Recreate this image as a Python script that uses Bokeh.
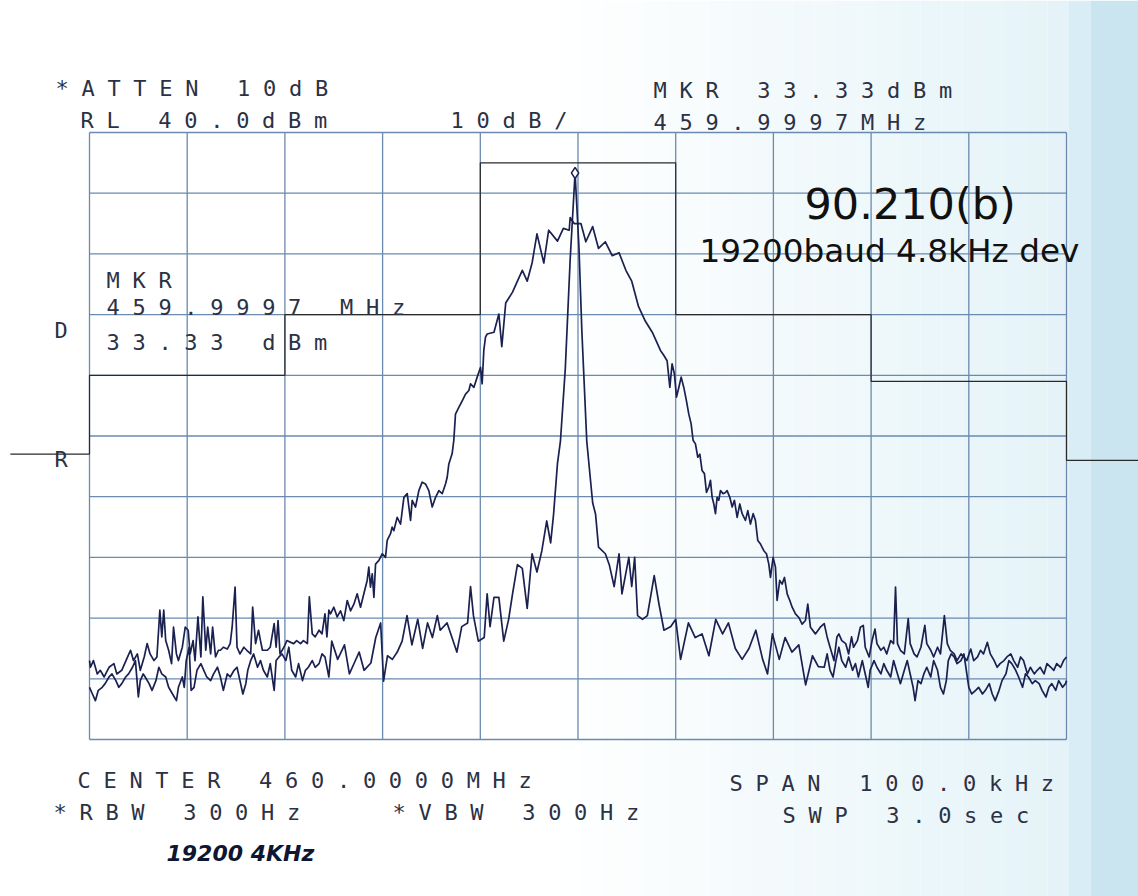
from bokeh.plotting import figure
from bokeh.layouts import column
from bokeh.models import Range1d
from bokeh.core.properties import value
from bokeh.embed import file_html
from bokeh.resources import INLINE

# ---------------- instrument settings ----------------
CENTER_MHZ = 460.0
SPAN_KHZ = 100.0
REF_LEVEL_DBM = 40.0
DB_PER_DIV = 10.0
N_DIV = 10
MARKER_FREQ_KHZ = -0.3      # 459.9997 MHz
MARKER_LEVEL_DBM = 33.33

# ---------------- emission mask (offset kHz, dBm) ----------------
mask_freq = [-58.1, -50.0, -50.0, -30.0, -30.0, -10.0, -10.0, 10.0, 10.0, 30.0, 30.0, 50.0, 50.0, 58.0]
mask_level = [-13.0, -13.0, 0.0, 0.0, 10.0, 10.0, 35.0, 35.0, 10.0, 10.0, -1.0, -1.0, -14.0, -14.0]

# ---------------- trace 1: modulated 19200 baud signal (offset kHz, dBm) ----------------
trace_mod = [
    (-50.0, -47.0), (-49.9, -48.1), (-49.6, -47.0), (-49.2, -49.2), (-48.9, -48.6), (-48.5, -49.7),
    (-48.0, -48.1), (-47.5, -47.5), (-47.2, -49.2), (-46.7, -48.6), (-46.1, -46.4), (-45.8, -45.3),
    (-45.5, -47.0), (-45.1, -45.9), (-44.8, -48.6), (-44.4, -46.4), (-44.1, -44.2), (-43.8, -45.9),
    (-43.4, -47.0), (-43.1, -46.4), (-42.8, -38.7), (-42.6, -43.1), (-42.4, -38.7), (-42.2, -43.7),
    (-41.9, -45.3), (-41.6, -47.5), (-41.4, -41.5), (-41.1, -45.9), (-40.9, -47.0), (-40.5, -44.8),
    (-40.2, -41.5), (-39.9, -42.0), (-39.7, -45.9), (-39.4, -43.7), (-39.2, -47.0), (-38.9, -39.8),
    (-38.6, -46.4), (-38.4, -36.5), (-38.1, -45.3), (-37.9, -41.5), (-37.6, -45.9), (-37.4, -41.5),
    (-37.1, -46.4), (-36.8, -45.3), (-36.6, -45.3), (-36.3, -44.8), (-35.9, -45.1), (-35.6, -44.2),
    (-35.4, -41.5), (-35.1, -34.9), (-34.9, -44.8), (-34.6, -45.9), (-34.2, -44.8), (-33.9, -45.3),
    (-33.5, -45.9), (-33.3, -38.2), (-33.0, -44.2), (-32.7, -42.0), (-32.5, -43.7), (-32.3, -45.3),
    (-31.8, -45.3), (-31.5, -44.8), (-31.1, -40.9), (-30.9, -44.8), (-30.7, -40.4), (-30.5, -45.9),
    (-30.1, -44.8), (-29.8, -43.7), (-29.4, -44.0), (-29.1, -44.2), (-28.8, -43.7), (-28.4, -44.2),
    (-28.1, -43.7), (-27.7, -44.2), (-27.5, -36.5), (-27.2, -42.6), (-26.9, -43.1), (-26.5, -42.0),
    (-26.2, -42.6), (-25.9, -39.3), (-25.7, -43.1), (-25.5, -38.7),
    (-25.33, -39.3), (-24.99, -38.2), (-24.65, -39.8), (-24.31, -38.8), (-23.97, -40.4),
    (-23.62, -37.1), (-23.28, -38.8), (-22.94, -37.7), (-22.6, -36.0), (-22.26, -38.2),
    (-21.92, -36.0), (-21.58, -33.8), (-21.41, -31.6), (-21.24, -34.9), (-21.06, -32.7),
    (-20.89, -36.6), (-20.72, -31.1), (-20.38, -30.5), (-20.04, -29.4), (-19.7, -30.0),
    (-19.53, -27.2), (-19.19, -26.1), (-19.02, -25.0), (-18.85, -25.6), (-18.51, -23.4),
    (-18.16, -24.5), (-17.82, -20.1), (-17.48, -19.5), (-17.14, -23.9), (-16.97, -20.6),
    (-16.63, -21.7), (-16.29, -19.0), (-15.95, -17.6), (-15.61, -17.9), (-15.27, -19.0),
    (-14.92, -21.7), (-14.58, -20.1), (-14.24, -19.0), (-13.9, -19.5), (-13.56, -17.9),
    (-13.39, -16.8), (-13.22, -14.6), (-12.88, -12.9), (-12.71, -10.7), (-12.54, -6.4),
    (-12.2, -5.3), (-11.85, -4.2), (-11.51, -3.1), (-11.17, -2.5), (-11.0, -1.4),
    (-10.66, -2.0), (-10.32, -0.3), (-9.98, 1.3), (-9.81, -1.4), (-9.64, 4.1), (-9.47, 6.3),
    (-9.3, 6.8), (-8.6, 7.1), (-8.1, 10.1), (-7.8, 4.7),
    (-7.4, 11.9), (-6.7, 13.7), (-6.2, 15.5), (-5.7, 17.3), (-5.2, 15.5), (-4.7, 18.5), (-4.2, 23.3),
    (-3.5, 18.5), (-3.0, 23.9), (-2.1, 22.1), (-1.5, 24.2), (-0.9, 23.9), (-0.8, 26.0), (-0.4, 25.0),
    (0.3, 25.0), (0.8, 22.0), (1.5, 24.5), (2.1, 20.9), (2.8, 22.0), (3.5, 19.7), (4.2, 20.2),
    (4.9, 17.3), (5.5, 15.5), (6.2, 11.3), (6.9, 8.9), (7.6, 7.1),
    (8.44, 4.1), (8.78, 3.3), (9.12, 2.4), (9.4, -2.0), (9.63, 1.9), (9.87, 0.2), (10.08, -3.6),
    (10.32, -2.0), (10.56, -0.3), (10.83, -2.0), (11.1, -4.2), (11.34, -6.4), (11.58, -8.0),
    (11.78, -10.7), (12.02, -11.3), (12.26, -13.5), (12.47, -13.0), (12.7, -15.7), (12.94, -16.2),
    (13.15, -19.3), (13.39, -18.4), (13.56, -17.3), (13.73, -20.1), (13.9, -21.2), (14.07, -22.8),
    (14.24, -20.1), (14.41, -20.6), (14.58, -19.0), (14.85, -19.5), (15.09, -19.3), (15.26, -19.0),
    (15.54, -20.1), (15.78, -21.7), (16.01, -20.6), (16.29, -23.4), (16.56, -21.2), (16.8, -22.8),
    (17.14, -23.9), (17.38, -22.3), (17.65, -24.5), (17.93, -22.8), (18.16, -23.9), (18.4, -27.2),
    (18.68, -27.8), (19.02, -28.9), (19.29, -29.4), (19.53, -31.1), (19.7, -33.3), (19.97, -30.0),
    (20.21, -31.6), (20.38, -37.1), (20.65, -33.8), (20.89, -34.4), (21.13, -33.3), (21.41, -36.0),
    (21.68, -37.1), (21.92, -38.2), (22.26, -39.3), (22.6, -39.9), (22.94, -41.0), (23.28, -40.4),
    (23.52, -37.7), (23.79, -41.5), (24.3, -42.6),
    (24.8, -41.5), (25.2, -40.9), (25.5, -43.1), (25.8, -44.8), (26.2, -47.0), (26.5, -43.1),
    (26.7, -42.6), (27.0, -43.7), (27.4, -44.2), (27.7, -45.9), (28.0, -43.1), (28.2, -44.8),
    (28.6, -43.7), (28.9, -41.5), (29.2, -41.2), (29.4, -44.8), (29.8, -46.4), (30.1, -43.7),
    (30.4, -41.8), (30.6, -44.2), (31.0, -45.3), (31.3, -44.8), (31.6, -45.9), (32.0, -43.7),
    (32.3, -44.2), (32.5, -34.9), (32.7, -44.2), (33.0, -45.3), (33.4, -45.9), (33.8, -40.1),
    (34.0, -44.2), (34.4, -45.9), (34.7, -46.4), (35.1, -44.8), (35.5, -41.2), (35.7, -44.2),
    (36.1, -45.3), (36.4, -46.4), (36.8, -44.8), (37.1, -45.9), (37.5, -39.6), (37.8, -44.2),
    (38.1, -45.3), (38.5, -45.9), (38.8, -47.0), (39.2, -45.9), (39.5, -46.4), (39.8, -47.0),
    (40.2, -45.1), (40.5, -47.0), (40.9, -46.4), (41.2, -45.3), (41.5, -45.9), (41.9, -44.0),
    (42.2, -45.9), (42.6, -47.0), (42.9, -48.1), (43.2, -47.5), (43.6, -47.0), (43.9, -46.4),
    (44.3, -45.9), (44.6, -47.0), (45.0, -48.1), (45.3, -46.4), (45.6, -47.0), (46.0, -49.2),
    (46.3, -48.1), (46.7, -49.2), (47.0, -48.6), (47.3, -48.1), (47.7, -49.2), (48.0, -47.5),
    (48.4, -48.1), (48.7, -48.6), (49.0, -47.5), (49.4, -48.1), (49.7, -47.0), (50.0, -46.4),
]

# ---------------- trace 2: unmodulated carrier (offset kHz, dBm) ----------------
trace_cw = [
    (-50.0, -51.4), (-49.7, -52.5), (-49.4, -53.6), (-49.1, -51.9), (-48.7, -51.4), (-48.4, -50.8),
    (-48.0, -49.7), (-47.7, -49.2), (-47.3, -50.3), (-47.0, -51.4), (-46.7, -50.8), (-46.3, -49.7),
    (-46.0, -49.2), (-45.6, -48.1), (-45.3, -47.0), (-45.0, -53.0), (-44.8, -50.3), (-44.5, -49.2),
    (-44.3, -49.7), (-43.9, -50.8), (-43.6, -51.9), (-43.2, -50.3), (-42.9, -48.1), (-42.6, -49.2),
    (-42.2, -49.7), (-41.9, -51.4), (-41.5, -52.5), (-41.1, -53.6), (-40.9, -51.4), (-40.5, -49.7),
    (-40.3, -51.4), (-40.1, -47.0), (-39.8, -44.8), (-39.6, -51.9), (-39.3, -51.4), (-39.0, -48.6),
    (-38.6, -47.5), (-38.3, -48.6), (-38.0, -49.7), (-37.6, -50.3), (-37.3, -49.2), (-36.9, -48.1),
    (-36.6, -49.7), (-36.3, -51.9), (-35.9, -49.2), (-35.6, -49.7), (-35.2, -48.6), (-34.9, -48.1),
    (-34.6, -50.3), (-34.3, -52.5), (-34.0, -50.8), (-33.8, -48.6), (-33.5, -47.0), (-33.2, -45.9),
    (-32.8, -48.1), (-32.5, -47.0), (-32.2, -48.6), (-31.8, -49.7), (-31.5, -47.5), (-31.1, -51.9),
    (-30.9, -47.0), (-30.6, -46.4), (-30.3, -45.9), (-29.9, -47.0), (-29.6, -44.8), (-29.3, -48.6),
    (-28.9, -49.7), (-28.6, -47.5), (-28.2, -50.3), (-27.9, -48.6), (-27.6, -48.1), (-27.2, -47.0),
    (-26.9, -48.1), (-26.5, -47.5), (-26.2, -45.9), (-25.9, -46.4), (-25.5, -49.7),
    (-25.2, -43.8), (-24.6, -46.8), (-23.9, -44.4), (-23.4, -49.2), (-22.9, -47.4), (-22.4, -45.6),
    (-21.9, -48.6), (-21.2, -47.4), (-20.7, -43.2), (-20.2, -40.8), (-19.9, -50.4), (-19.5, -46.2),
    (-19.0, -46.8), (-18.5, -45.6), (-18.0, -43.8), (-17.5, -39.6), (-17.0, -44.4), (-16.4, -40.2),
    (-15.9, -45.0), (-15.4, -40.8), (-14.9, -43.2), (-14.4, -39.6), (-14.1, -42.0), (-13.4, -40.8),
    (-12.9, -43.2), (-12.4, -45.6), (-11.9, -41.4), (-11.3, -40.8), (-11.0, -34.8), (-10.7, -39.6),
    (-10.2, -43.8), (-9.6, -43.2), (-9.3, -36.0), (-9.0, -41.4), (-8.6, -36.6), (-8.1, -36.6),
    (-7.6, -43.8), (-7.1, -40.2), (-6.7, -36.0), (-6.2, -31.2), (-5.7, -31.8), (-5.2, -38.4),
    (-4.7, -29.4), (-4.2, -32.4), (-3.7, -28.9), (-3.2, -24.0), (-2.8, -27.6), (-2.5, -22.9),
    (-2.1, -14.5), (-1.8, -10.9), (-1.3, 1.1), (-0.8, 19.1), (-0.3, 33.33), (0.1, 21.0), (0.4, 7.1),
    (0.9, -10.9), (1.5, -21.0), (1.8, -22.9), (2.1, -28.3), (2.8, -29.4), (3.2, -31.2), (3.7, -34.8),
    (4.2, -29.4), (4.5, -36.0), (5.2, -30.0), (5.5, -34.8), (5.8, -30.0), (6.1, -39.6), (6.6, -40.2),
    (7.1, -39.6), (7.8, -33.0), (8.3, -37.8), (8.8, -42.0), (9.5, -41.4), (10.0, -40.2), (10.5, -46.8),
    (11.3, -40.8), (12.0, -43.2), (12.7, -42.6), (13.4, -46.2), (14.1, -40.2), (14.8, -42.6),
    (15.4, -40.8), (16.1, -45.0), (16.8, -46.8), (17.5, -45.0), (18.2, -42.0), (18.9, -46.8),
    (19.4, -49.2), (19.9, -42.6), (20.6, -46.8), (21.2, -43.2), (21.9, -45.6), (22.6, -44.4),
    (23.3, -51.0), (24.0, -46.2), (24.6, -48.0),
    (25.2, -48.1), (25.5, -45.9), (25.8, -48.6), (26.1, -49.7), (26.4, -47.0), (26.7, -44.8),
    (27.0, -47.0), (27.4, -48.1), (27.7, -46.4), (28.1, -48.6), (28.4, -47.5), (28.7, -49.7),
    (29.1, -47.0), (29.4, -49.2), (29.7, -51.4), (29.9, -48.6), (30.3, -47.0), (30.6, -48.1),
    (31.0, -49.2), (31.3, -47.5), (31.6, -48.6), (32.0, -49.7), (32.3, -47.0), (32.7, -49.2),
    (33.0, -50.8), (33.4, -48.6), (33.7, -47.0), (34.0, -49.2), (34.3, -51.4), (34.5, -53.6),
    (34.8, -50.3), (35.1, -50.8), (35.4, -49.2), (35.7, -48.1), (36.1, -49.7), (36.4, -47.0),
    (36.8, -48.6), (37.1, -51.4), (37.4, -52.5), (37.7, -50.3), (37.9, -47.0), (38.2, -45.9),
    (38.5, -46.4), (38.8, -47.5), (39.2, -47.0), (39.5, -45.9), (39.8, -49.2), (40.0, -51.4),
    (40.3, -52.5), (40.7, -51.9), (41.0, -51.4), (41.4, -52.5), (41.7, -51.9), (42.1, -50.8),
    (42.4, -52.5), (42.7, -53.6), (43.1, -51.9), (43.4, -50.3), (43.8, -49.2), (44.1, -47.0),
    (44.4, -47.5), (44.8, -48.6), (45.1, -49.7), (45.5, -51.4), (45.8, -49.2), (46.1, -49.7),
    (46.5, -50.8), (46.8, -50.3), (47.2, -50.8), (47.5, -51.9), (47.9, -53.0), (48.2, -51.4),
    (48.5, -50.8), (48.9, -51.9), (49.2, -50.3), (49.6, -51.4), (49.9, -50.8), (50.0, -50.3),
]

# ---------------- annotation texts ----------------
hdr_atten = "*ATTEN 10dB"
hdr_rl = "RL 40.0dBm"
hdr_scale = "10dB/"
hdr_mkr = "MKR 33.33dBm"
hdr_mkr_f = "459.9997MHz"
box_mkr = ["MKR", "459.9997 MHz", "33.33 dBm"]
ftr_center = "CENTER 460.0000MHz"
ftr_rbw = "*RBW 300Hz"
ftr_vbw = "*VBW 300Hz"
ftr_span = "SPAN 100.0kHz"
ftr_swp = "SWP 3.0sec"
note_title = "90.210(b)"
note_sub = "19200baud 4.8kHz dev"
note_hand = "19200 4KHz"

# ---------------- page geometry ----------------
W, H = 1138, 896
GX0, GX1 = 89.0, 1066.0       # graticule left/right on the page
GY0, GY1 = 132.0, 739.0       # graticule top/bottom on the page


def fx(px):
    return -SPAN_KHZ / 2 + (px - GX0) * SPAN_KHZ / (GX1 - GX0)


def fy(py):
    return REF_LEVEL_DBM - (py - GY0) * (DB_PER_DIV * N_DIV) / (GY1 - GY0)


xr = Range1d(fx(0), fx(W))
yr = Range1d(fy(H), fy(0))

TRACE = "#1a2150"
PLOT_TXT = "#2c3144"
GRID = "#6a8ab0"
PS = 22                        # plotter text size
PITCH_GAP = 12.7               # extra spacing of the plotter's fixed-pitch letters

p = figure(width=W, height=H, x_range=xr, y_range=yr, output_backend="svg",
           toolbar_location=None, x_axis_type=None, y_axis_type=None,
           min_border=0, outline_line_color=None,
           background_fill_color="#ffffff", border_fill_color="#ffffff",
           styles={"letter-spacing": f"{PITCH_GAP}px"})
p.grid.visible = False


# paper tint of the scan: a soft ramp to light blue towards the right edge
def mix(c0, c1, t):
    a = [int(c0[i:i + 2], 16) for i in (1, 3, 5)]
    b = [int(c1[i:i + 2], 16) for i in (1, 3, 5)]
    return "#" + "".join(f"{round(x + (y - x) * t):02x}" for x, y in zip(a, b))


n_steps = 24
ramp_l, ramp_r = 560.0, 1068.0
edges = [ramp_l + (ramp_r - ramp_l) * k / n_steps for k in range(n_steps + 1)]
t_left = edges[:-1] + [1068.0, 1090.0]
t_right = edges[1:] + [1090.0, float(W)]
t_cols = [mix("#ffffff", "#e4f3f8", (k + 0.5) / n_steps) for k in range(n_steps)] + ["#d8edf5", "#cbe5f0"]
p.quad(left=[fx(a) for a in t_left], right=[fx(b) for b in t_right],
       bottom=[fy(H)] * len(t_cols), top=[fy(0)] * len(t_cols),
       fill_color=t_cols, line_color=None)

# graticule
lo_f, hi_f = -SPAN_KHZ / 2, SPAN_KHZ / 2
bot_db = REF_LEVEL_DBM - DB_PER_DIV * N_DIV
vx = [lo_f + i * SPAN_KHZ / N_DIV for i in range(N_DIV + 1)]
hy = [REF_LEVEL_DBM - i * DB_PER_DIV for i in range(N_DIV + 1)]
p.segment(x0=vx, y0=[bot_db] * len(vx), x1=vx, y1=[REF_LEVEL_DBM] * len(vx),
          line_color=GRID, line_width=1.3)
p.segment(x0=[lo_f] * len(hy), y0=hy, x1=[hi_f] * len(hy), y1=hy,
          line_color=GRID, line_width=1.3)

# mask
p.line(mask_freq, mask_level, line_color="#2a2a2a", line_width=1.2)

# traces
p.line([a for a, b in trace_cw], [b for a, b in trace_cw], line_color=TRACE, line_width=1.7,
       line_join="round")
p.line([a for a, b in trace_mod], [b for a, b in trace_mod], line_color=TRACE, line_width=1.7,
       line_join="round")

# marker
p.scatter([MARKER_FREQ_KHZ], [MARKER_LEVEL_DBM], marker="diamond", size=11,
          fill_color="#ffffff", line_color=TRACE, line_width=1.4)


def ptxt(fig, s, px, py, size, color=PLOT_TXT, font="DejaVu Sans Mono", style="normal"):
    fig.text(x=[fx(px)], y=[fy(py)], text=[s], text_font=value(font),
             text_font_size=f"{size}px", text_color=color, text_font_style=style,
             text_baseline="alphabetic", text_align="left")


ptxt(p, hdr_atten, 55, 88, PS)
ptxt(p, hdr_rl, 80, 120, PS)
ptxt(p, hdr_scale, 450, 120, PS)
ptxt(p, hdr_mkr, 653, 90, PS)
ptxt(p, hdr_mkr_f, 653, 122, PS)
ptxt(p, box_mkr[0], 106, 280, PS)
ptxt(p, box_mkr[1], 106, 307, PS)
ptxt(p, box_mkr[2], 106, 342, PS)
ptxt(p, "D", 54, 330, PS)
ptxt(p, "R", 54, 459, PS)
ptxt(p, ftr_center, 77, 780, PS)
ptxt(p, ftr_rbw, 53, 812, PS)
ptxt(p, ftr_vbw, 392, 812, PS)
ptxt(p, ftr_span, 729, 783, PS)
ptxt(p, ftr_swp, 782, 815, PS)

# overlay with normally spaced annotation text
q = figure(width=W, height=H, x_range=xr, y_range=yr, output_backend="svg",
           toolbar_location=None, x_axis_type=None, y_axis_type=None,
           min_border=0, outline_line_color=None,
           background_fill_color=None, border_fill_color=None,
           styles={"margin-top": f"-{H}px", "letter-spacing": "normal"})
q.grid.visible = False
ptxt(q, note_title, 804, 203, 43, color="#111111", font="DejaVu Sans")
ptxt(q, note_sub, 699, 250, 32.7, color="#111111", font="DejaVu Sans")
ptxt(q, note_hand, 166, 853, 22, color="#0e1631", font="DejaVu Sans", style="bold italic")

layout = column(p, q, spacing=0)
open("out.html", "w").write(file_html(layout, INLINE))
